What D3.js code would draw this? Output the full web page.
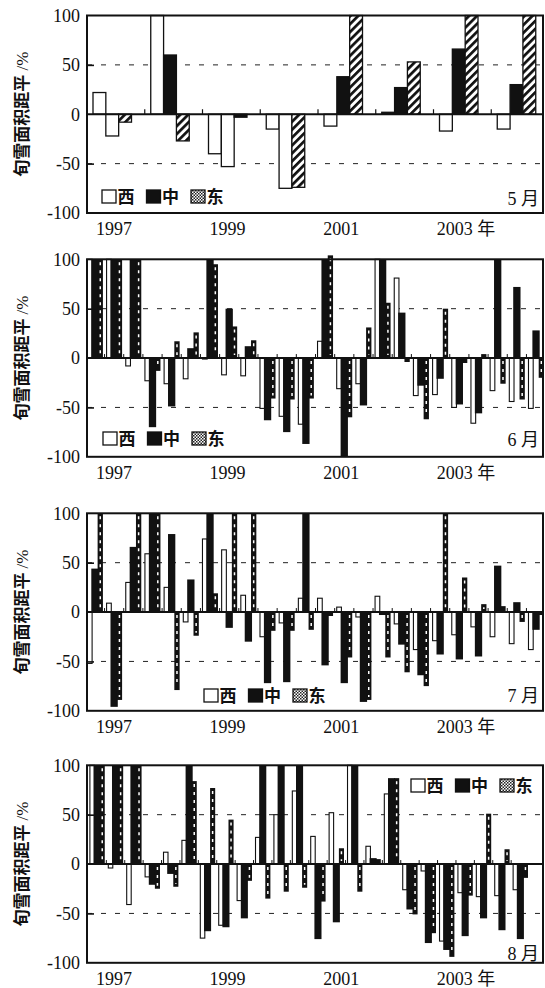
<!DOCTYPE html>
<html>
<head>
<meta charset="utf-8">
<script src="https://cdn.jsdelivr.net/npm/d3@7"></script>
<style>
body { margin: 0; background: #fff; }
svg { display: block; }
</style>
</head>
<body>
<script>
// regions (series) and legend names
var series = ["west", "middle", "east"];
var seriesNames = ["西", "中", "东"];
var years = [1997, 1998, 1999, 2000, 2001, 2002, 2003, 2004];
var yTicks = [100, 50, 0, -50, -100];
var yearTicks = [1997, 1999, 2001, 2003];

// 5月: one value per year
var may_west   = [22, 100, -40, -15, -12, 2, -17, -15];
var may_middle = [-22, 60, -53, -75, 38, 27, 66, 30];
var may_east   = [-8, -27, -3, -74, 100, 53, 100, 100];
// bars that the print shows with another region's fill
var mayPrintAs = {"1997-middle": "west", "1999-middle": "west", "2000-middle": "west",
                  "1999-east": "middle", "2002-west": "middle"};

// 6-8月: one value per dekad (上/中/下旬), 1997-2004
var jun_west   = [100, 100, -8, -23, -26, -21, -1, -17, -18, -51, -59, -67, 17, -31, -26, 100, 81, -38, -37, -50, -66, -33, -44, -51];
var jun_middle = [100, 100, 100, -70, -49, 10, 100, 50, 12, -63, -75, -87, 100, -100, -48, 100, 46, -28, -21, -47, -56, 100, 72, 28];
var jun_east   = [100, 100, 100, -13, 17, 26, 95, 32, 18, -41, -42, -41, 104, -60, 31, 56, -4, -62, 50, -5, 4, -26, -42, -20];

var jul_west   = [-52, 9, 30, 59, 25, -10, 74, 63, 17, -25, -11, 14, 14, 5, -5, 16, -12, -38, -29, -23, -15, -25, -32, -38];
var jul_middle = [44, -96, 66, 100, 79, 33, 100, -16, -30, -72, -71, 100, -54, -72, -91, -3, -33, -64, -43, -48, -45, 47, 10, -18];
var jul_east   = [100, -89, 100, 100, -79, -24, 19, 100, 100, -19, -19, -18, -4, -46, -89, -46, -61, -75, 100, 35, 8, 6, -10, -3];

var aug_west   = [100, -4, -41, -13, 12, 24, -75, -62, -37, 27, 50, 74, 28, 52, 100, 18, 71, -26, -7, -78, -29, -33, -32, -26];
var aug_middle = [100, 100, 100, -21, -10, 100, -68, -64, -55, 100, 100, 100, -76, -59, 100, 6, 87, -46, -80, -87, -73, -55, -67, -76];
var aug_east   = [100, 100, 100, -25, -23, 84, 77, 45, -17, -35, -28, -24, -38, 16, -28, 5, 87, -51, -70, -94, -32, 51, 15, -14];

var panels = [
    {label: "5 月", kind: "year", west: may_west, middle: may_middle, east: may_east,
     top: 15.5, x0: 87, x1: 549, legend: [102, 190], monthY: 205},
    {label: "6 月", kind: "dekad", west: jun_west, middle: jun_middle, east: jun_east,
     top: 259.3, x0: 87, x1: 544, legend: [103, 432], monthY: 446},
    {label: "7 月", kind: "dekad", west: jul_west, middle: jul_middle, east: jul_east,
     top: 513.3, x0: 87, x1: 544, legend: [204, 689], monthY: 702},
    {label: "8 月", kind: "dekad", west: aug_west, middle: aug_middle, east: aug_east,
     top: 765.3, x0: 89.5, x1: 528, legend: [411, 779], monthY: 960}
];

var plotLeft = 87, plotRight = 543, plotH = 197.5;
var serif = "'Liberation Serif', 'Noto Sans CJK SC', serif";
var cjk = "'Noto Sans CJK SC', sans-serif";

var svg = d3.select("body").append("svg").attr("width", 545).attr("height", 988);
var defs = svg.append("defs");

defs.append("pattern").attr("id", "hatch")
    .attr("patternUnits", "userSpaceOnUse")
    .attr("width", 5.6).attr("height", 5.6)
    .attr("patternTransform", "rotate(45)")
    .call(function (pt) {
        pt.append("rect").attr("width", 5.6).attr("height", 5.6).attr("fill", "#fff");
        pt.append("rect").attr("width", 2.7).attr("height", 5.6).attr("fill", "#111");
    });

var st = defs.append("pattern").attr("id", "stipple")
    .attr("patternUnits", "userSpaceOnUse").attr("width", 3).attr("height", 3);
st.append("rect").attr("width", 3).attr("height", 3).attr("fill", "#fff");
st.append("rect").attr("width", 1.5).attr("height", 1.5).attr("fill", "#222");
st.append("rect").attr("x", 1.5).attr("y", 1.5).attr("width", 1.5).attr("height", 1.5).attr("fill", "#222");

var fills = {west: "#fff", middle: "#111", east: "url(#hatch)"};
var legendFills = {west: "#fff", middle: "#111", east: "url(#stipple)"};

// tick labels on the year axis
var yearAxis = d3.scaleLinear().domain([1997, 2003]).range([113.5, 454.3]);

panels.forEach(function (p) {
    drawPanel(p);
});

function drawPanel(p) {
    var g = svg.append("g");
    var bottom = p.top + plotH;
    var y = d3.scaleLinear().domain([-100, 100]).range([bottom, p.top]);

    g.selectAll(".grid")
        .data([50, -50])
        .enter().append("line")
        .attr("x1", plotLeft).attr("x2", plotRight)
        .attr("y1", function (d) { return y(d); })
        .attr("y2", function (d) { return y(d); })
        .attr("stroke", "#222").attr("stroke-width", 1)
        .attr("stroke-dasharray", "5,9");

    if (p.kind === "year") drawYearBars(g, p, y);
    else drawDekadBars(g, p, y);

    g.append("line")
        .attr("x1", plotLeft).attr("x2", plotRight)
        .attr("y1", y(0)).attr("y2", y(0))
        .attr("stroke", "#111").attr("stroke-width", 2);

    g.append("rect")
        .attr("x", plotLeft).attr("y", p.top)
        .attr("width", plotRight - plotLeft).attr("height", plotH)
        .attr("fill", "none").attr("stroke", "#111").attr("stroke-width", 2);

    var ya = g.append("g")
        .attr("transform", "translate(" + plotLeft + ",0)")
        .call(d3.axisLeft(y).tickValues(yTicks).tickSize(0).tickPadding(7)
            .tickFormat(function (d) { return String(d); }));
    ya.select(".domain").remove();
    ya.selectAll("text")
        .attr("font-size", 18).attr("font-family", serif).attr("fill", "#111");

    var yt = g.append("g")
        .attr("transform", "translate(" + plotLeft + ",0)")
        .call(d3.axisRight(y).tickValues([50, -50]).tickSize(7).tickFormat(""));
    yt.select(".domain").remove();
    yt.selectAll("line").attr("stroke", "#111").attr("stroke-width", 1.6);

    var xa = g.append("g")
        .attr("transform", "translate(0," + bottom + ")")
        .call(d3.axisBottom(yearAxis).tickValues(yearTicks).tickSize(0).tickPadding(9)
            .tickFormat(function (d) { return d === 2003 ? "2003 年" : String(d); }));
    xa.select(".domain").remove();
    xa.selectAll("text")
        .attr("text-anchor", "start").attr("dx", -18)
        .attr("font-size", 18).attr("font-family", serif).attr("fill", "#111");

    var title = g.append("text")
        .attr("transform", "translate(28," + y(0) + ") rotate(-90)")
        .attr("text-anchor", "middle")
        .attr("font-size", 17).attr("fill", "#111");
    title.append("tspan").attr("font-family", cjk).attr("font-weight", 700).text("旬雪面积距平");
    title.append("tspan").attr("font-family", serif).text(" /%");

    var lg = g.append("g")
        .attr("transform", "translate(" + p.legend[0] + "," + p.legend[1] + ")");
    lg.selectAll("rect")
        .data(series)
        .enter().append("rect")
        .attr("x", function (d, i) { return i * 44.5; })
        .attr("y", 0).attr("width", 14).attr("height", 13)
        .attr("fill", function (d) { return legendFills[d]; })
        .attr("stroke", "#111").attr("stroke-width", 1.3);
    lg.selectAll("text")
        .data(seriesNames)
        .enter().append("text")
        .attr("x", function (d, i) { return i * 44.5 + 15.5; })
        .attr("y", 13)
        .attr("font-size", 17).attr("font-weight", 700)
        .attr("font-family", cjk).attr("fill", "#111")
        .text(function (d) { return d; });

    g.append("text")
        .attr("x", plotRight - 4).attr("y", p.monthY)
        .attr("text-anchor", "end")
        .attr("font-size", 18).attr("font-family", serif).attr("fill", "#111")
        .text(p.label);
}

function drawYearBars(g, p, y) {
    var x = d3.scaleBand().domain(years).range([p.x0, p.x1]);
    var xi = d3.scaleBand().domain(series).range([6, 44.5]);

    series.forEach(function (s) {
        var rows = years.map(function (yr, i) {
            return {year: yr, value: p[s][i], s: s};
        });
        g.selectAll(".bar-" + s)
            .data(rows)
            .enter().append("rect")
            .attr("class", "bar-" + s)
            .attr("x", function (d) { return x(d.year) + xi(s); })
            .attr("width", xi.bandwidth())
            .attr("y", function (d) { return y(Math.max(0, d.value)); })
            .attr("height", function (d) { return Math.abs(y(d.value) - y(0)); })
            .attr("fill", function (d) { return fills[mayPrintAs[d.year + "-" + s] || s]; })
            .attr("stroke", "#111").attr("stroke-width", 1.3);
    });

    g.selectAll(".ytick")
        .data(years.slice(1))
        .enter().append("line")
        .attr("x1", function (d) { return x(d); })
        .attr("x2", function (d) { return x(d); })
        .attr("y1", y(0)).attr("y2", y(0) - 5)
        .attr("stroke", "#111").attr("stroke-width", 1.2);
}

function drawDekadBars(g, p, y) {
    var dekads = d3.range(years.length * 3);
    var x = d3.scaleBand().domain(dekads).range([p.x0, p.x1]).paddingInner(0.17);
    var xi = d3.scaleBand().domain(series).range([0, x.bandwidth()]);
    var bw = xi.bandwidth();

    function rowsOf(s) {
        return dekads.map(function (i) { return {i: i, value: p[s][i]}; });
    }
    function top(d) { return y(Math.max(0, d.value)); }
    function h(d) { return Math.abs(y(d.value) - y(0)); }

    g.selectAll(".bar-west")
        .data(rowsOf("west"))
        .enter().append("rect")
        .attr("class", "bar-west")
        .attr("x", function (d) { return x(d.i) + xi("west") + 0.4; })
        .attr("width", bw - 0.6)
        .attr("y", top).attr("height", h)
        .attr("fill", "#fff").attr("stroke", "#111").attr("stroke-width", 1.1);

    g.selectAll(".bar-middle")
        .data(rowsOf("middle"))
        .enter().append("rect")
        .attr("class", "bar-middle")
        .attr("x", function (d) { return x(d.i) + xi("middle") - 1; })
        .attr("width", bw + 2)
        .attr("y", top).attr("height", h)
        .attr("fill", "#111");

    var east = g.selectAll(".bar-east")
        .data(rowsOf("east"))
        .enter().append("g")
        .attr("class", "bar-east");
    east.append("rect")
        .attr("x", function (d) { return x(d.i) + xi("east"); })
        .attr("width", bw)
        .attr("y", top).attr("height", h)
        .attr("fill", "#111");
    east.filter(function (d) { return h(d) > 7; })
        .append("line")
        .attr("x1", function (d) { return x(d.i) + xi("east") + bw / 2; })
        .attr("x2", function (d) { return x(d.i) + xi("east") + bw / 2; })
        .attr("y1", function (d) { return top(d) + 3; })
        .attr("y2", function (d) { return top(d) + h(d) - 3; })
        .attr("stroke", "#fff").attr("stroke-width", 1.5)
        .attr("stroke-dasharray", "3,5");

    var gap = x.step() * x.paddingInner() / 2;
    g.selectAll(".dtick")
        .data(dekads.slice(1))
        .enter().append("line")
        .attr("x1", function (d) { return x(d) - gap; })
        .attr("x2", function (d) { return x(d) - gap; })
        .attr("y1", y(0)).attr("y2", y(0) - 4)
        .attr("stroke", "#111").attr("stroke-width", 1);
}
</script>
</body>
</html>
